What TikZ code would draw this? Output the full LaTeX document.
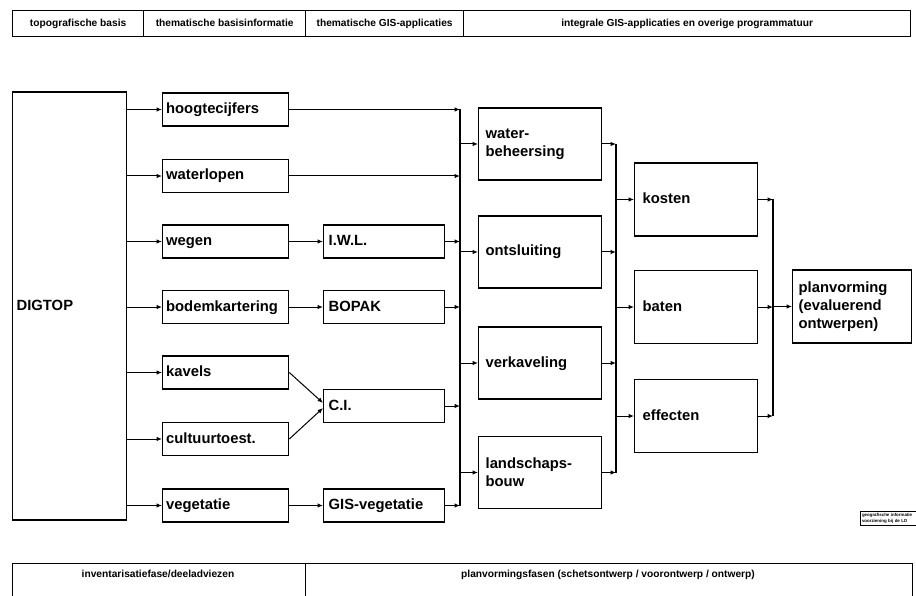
\documentclass[tikz,border=0pt]{standalone}
\usepackage{fontspec}
\setmainfont{Liberation Sans}
\usetikzlibrary{arrows.meta}

\begin{document}
\begin{tikzpicture}[x=1pt,y=-1pt,
  box/.style={draw, line width=1.3pt, anchor=west, align=left,
    inner ysep=0pt, text height=11pt, text depth=3pt,
    font=\bfseries\fontsize{14.8}{18}\selectfont},
  multi/.style={text height={}, text depth={}},
  colA/.style={box, text width=119pt, inner xsep=3.5pt, minimum height=33pt},
  colB/.style={box, text width=111pt, inner xsep=5pt, minimum height=33pt},
  colC/.style={box, text width=109pt, inner xsep=7pt, minimum height=72pt},
  colD/.style={box, text width=107pt, inner xsep=8pt, minimum height=73pt},
  cell/.style={draw, line width=1.3pt, anchor=north west, inner sep=0pt},
  bandtext/.style={font=\bfseries\fontsize{10.2}{11}\selectfont, inner sep=0pt,
    text height=7.5pt, text depth=2pt},
  flow/.style={-{Latex[length=5.5pt,width=4.5pt]}, line width=1pt},
  busline/.style={line width=1.3pt}
]
\useasboundingbox (0,0) rectangle (916,596);

% header band
\node[cell, minimum width=131pt, minimum height=26pt] (h1) at (12,10) {};
\node[cell, minimum width=162pt, minimum height=26pt] (h2) at (143,10) {};
\node[cell, minimum width=158pt, minimum height=26pt] (h3) at (305,10) {};
\node[cell, minimum width=447pt, minimum height=26pt] (h4) at (463,10) {};
\node[bandtext] (t1) at (h1.center) {topografische basis};
\node[bandtext] (t2) at (h2.center) {thematische basisinformatie};
\node[bandtext] (t3) at (h3.center) {thematische GIS-applicaties};
\node[bandtext] (t4) at (h4.center) {integrale GIS-applicaties en overige programmatuur};

% footer band
\node[cell, minimum width=293pt, minimum height=45pt] (f1) at (12,563) {};
\node[cell, minimum width=607pt, minimum height=45pt] (f2) at (305,563) {};
\node[bandtext] (u1) at (158,575) {inventarisatiefase/deeladviezen};
\node[bandtext] (u2) at (608,575) {planvormingsfasen (schetsontwerp / voorontwerp / ontwerp)};

% source box
\node[box, text width=106pt, inner xsep=4pt, minimum height=428pt] (dig) at (12,306) {DIGTOP};

% inventory layers
\node[colA] (hoog) at (162,109.5) {hoogtecijfers};
\node[colA] (wlop) at (162,176) {waterlopen};
\node[colA] (wegen) at (162,241.5) {wegen};
\node[colA] (bodem) at (162,307) {bodemkartering};
\node[colA] (kavels) at (162,372.5) {kavels};
\node[colA] (cult) at (162,439) {cultuurtoest.};
\node[colA] (veg) at (162,505.5) {vegetatie};

% thematic applications
\node[colB] (iwl) at (323,241.5) {I.W.L.};
\node[colB] (bopak) at (323,307) {BOPAK};
\node[colB] (ci) at (323,406) {C.I.};
\node[colB] (gisv) at (323,505.5) {GIS-vegetatie};

% planning themes
\node[colC, multi] (wb) at (478,144) {water-\\beheersing};
\node[colC] (ont) at (478,252) {ontsluiting};
\node[colC] (verk) at (478,363) {verkaveling};
\node[colC, multi] (land) at (478,472.5) {landschaps-\\bouw};

% evaluation
\node[colD] (kost) at (634,199.5) {kosten};
\node[colD] (bat) at (634,307) {baten};
\node[colD] (eff) at (634,416) {effecten};

\node[box, multi, text width=107pt, inner xsep=6pt, minimum height=73pt] (plan) at (792,306.5)
  {planvorming\\(evaluerend\\ontwerpen)};

% small caption box
\node[draw, line width=1pt, anchor=north west, align=left, inner xsep=1.5pt, inner ysep=1.5pt,
  font=\bfseries\fontsize{4.4}{6.5}\selectfont, text width=54pt] (src) at (860,511)
  {geografische informatie\\voorziening bij de LD};

% bus lines
\coordinate (bus1) at (460,0);
\coordinate (bus2) at (616,0);
\coordinate (bus3) at (773,0);

% DIGTOP to layers
\foreach \n in {hoog,wlop,wegen,bodem,kavels,cult,veg}
  \draw[flow] (\n.west -| dig.east) -- (\n.west);

% layers to applications
\draw[flow] (wegen.east) -- (iwl.west);
\draw[flow] (bodem.east) -- (bopak.west);
\draw[flow] (kavels.east) -- ([yshift=3pt]ci.west);
\draw[flow] (cult.east) -- ([yshift=-2pt]ci.west);
\draw[flow] (veg.east) -- (gisv.west);

% into first bus
\draw[busline] (hoog.east -| bus1) -- (gisv.east -| bus1);
\foreach \n in {hoog,wlop,iwl,bopak,ci,gisv}
  \draw[flow] (\n.east) -- (\n.east -| bus1);
\foreach \n in {wb,ont,verk,land}
  \draw[flow] (\n.west -| bus1) -- (\n.west);

% second bus
\draw[busline] (wb.east -| bus2) -- (land.east -| bus2);
\foreach \n in {wb,ont,verk,land}
  \draw[flow] (\n.east) -- (\n.east -| bus2);
\foreach \n in {kost,bat,eff}
  \draw[flow] (\n.west -| bus2) -- (\n.west);

% third bus
\draw[busline] (kost.east -| bus3) -- (eff.east -| bus3);
\foreach \n in {kost,bat,eff}
  \draw[flow] (\n.east) -- (\n.east -| bus3);
\draw[flow] (plan.west -| bus3) -- (plan.west);
\end{tikzpicture}
\end{document}
